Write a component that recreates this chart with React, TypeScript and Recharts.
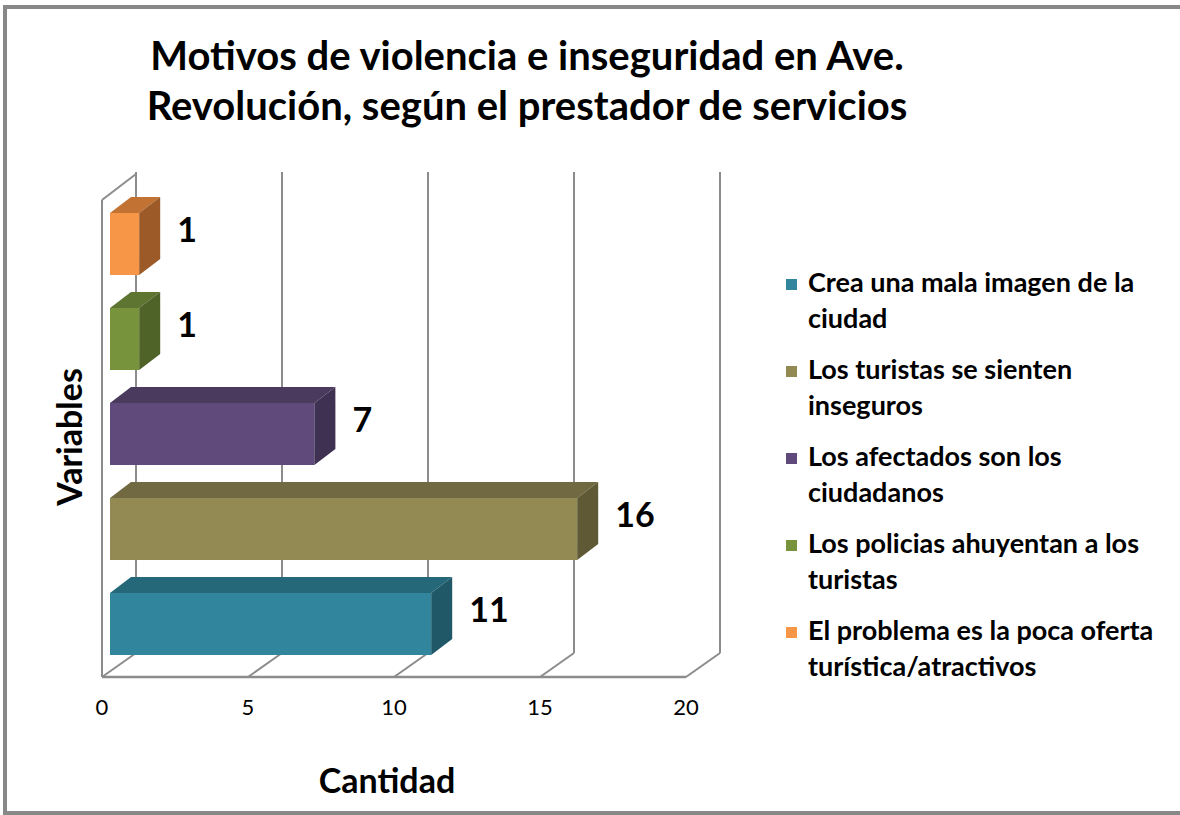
import React from 'react';
import { BarChart, Bar, XAxis, YAxis, CartesianGrid, Cell, LabelList } from 'recharts';

const categories = [
  'Crea una mala imagen de la ciudad',
  'Los turistas se sienten inseguros',
  'Los afectados son los ciudadanos',
  'Los policias ahuyentan a los turistas',
  'El problema es la poca oferta turística/atractivos',
];
const values = [11, 16, 7, 1, 1];
const xTicks = [0, 5, 10, 15, 20];
const legendLines = [
  ['Crea una mala imagen de la', 'ciudad'],
  ['Los turistas se sienten', 'inseguros'],
  ['Los afectados son los', 'ciudadanos'],
  ['Los policias ahuyentan a los', 'turistas'],
  ['El problema es la poca oferta', 'turística/atractivos'],
];

const frontColors = ['#31859C', '#938953', '#604A7B', '#77933C', '#F79646'];
const topColors = ['#25687A', '#716941', '#4A3A5E', '#5D7530', '#C27232'];
const sideColors = ['#205867', '#5F5A35', '#3F3151', '#4F6228', '#9C5A28'];

const data = categories.map((name, i) => ({ name, value: values[i] }));

const FONT = 'Lato, "Open Sans", sans-serif';
const WALL = '#8c8c8c';
// depth of the walls and of the boxes
const DX = 34;
const DY = -24;
const FACE_DX = 8;
const FACE_DY = -6;
const BOX_DX = 21;
const BOX_DY = -16;

const Box3D = (props: any) => {
  const { x, y, width, height, index } = props;
  if (width == null || height == null) return null;
  const fx = x + FACE_DX;
  const fy = y + FACE_DY;
  const w = width;
  const h = height;
  const top = `${fx},${fy} ${fx + BOX_DX},${fy + BOX_DY} ${fx + w + BOX_DX},${fy + BOX_DY} ${fx + w},${fy}`;
  const side = `${fx + w},${fy} ${fx + w + BOX_DX},${fy + BOX_DY} ${fx + w + BOX_DX},${fy + h + BOX_DY} ${fx + w},${fy + h}`;
  return (
    <g>
      <rect x={fx} y={fy} width={w} height={h} fill={frontColors[index]} />
      <polygon points={top} fill={topColors[index]} />
      <polygon points={side} fill={sideColors[index]} />
    </g>
  );
};

const gridLine = (p: any) => {
  const { x1, y1, y2, index } = p;
  const bx = x1 + DX;
  return (
    <g key={`grid-${index}`}>
      <line x1={bx} y1={y2 + DY} x2={bx} y2={y1 - 30} stroke={WALL} strokeWidth={2} />
      <line x1={x1} y1={y2} x2={bx} y2={y2 + DY} stroke={WALL} strokeWidth={2} />
      {index === 0 && (
        <>
          <line x1={x1} y1={y2} x2={x1} y2={y1 - 2} stroke={WALL} strokeWidth={2} />
          <line x1={x1} y1={y1 - 2} x2={bx} y2={y1 - 28} stroke={WALL} strokeWidth={2} />
        </>
      )}
    </g>
  );
};

const renderValue = (p: any) => {
  const vb = p.viewBox ?? p;
  const x = vb.x ?? p.x;
  const y = vb.y ?? p.y;
  const w = vb.width ?? p.width;
  const h = vb.height ?? p.height;
  return (
    <text
      x={x + w + FACE_DX + BOX_DX + 17}
      y={y + FACE_DY + h / 2 - 14}
      dy="0.35em"
      fontFamily={FONT}
      fontWeight={700}
      fontSize={34}
      fill="#000"
    >
      {p.value}
    </text>
  );
};

export default function App() {
  return (
    <div
      style={{
        position: 'absolute',
        left: 0,
        top: 0,
        width: 1180,
        height: 815,
        overflow: 'hidden',
        background: '#fff',
        fontFamily: FONT,
      }}
    >
      <div
        style={{
          position: 'absolute',
          left: 3,
          top: 5,
          width: 1177,
          height: 810,
          boxSizing: 'border-box',
          borderTop: '4px solid #888',
          borderLeft: '4px solid #888',
          borderBottom: '4px solid #888',
          borderRight: 'none',
        }}
      />
      <div style={{ position: 'absolute', left: 0, top: 0 }}>
        <BarChart
          width={1180}
          height={815}
          data={data}
          layout="vertical"
          margin={{ top: 202, right: 494, left: 102, bottom: 98 }}
          barSize={62}
        >
          <CartesianGrid horizontal={false} vertical={gridLine} />
          <XAxis
            type="number"
            domain={[0, 20]}
            ticks={xTicks}
            height={40}
            tickLine={false}
            tickSize={0}
            tickMargin={22}
            axisLine={{ stroke: WALL, strokeWidth: 2.5 }}
            tick={{ fontFamily: FONT, fontSize: 22, fill: '#000' }}
          />
          <YAxis type="category" dataKey="name" reversed hide />
          <Bar dataKey="value" shape={Box3D} isAnimationActive={false}>
            {data.map((d, i) => (
              <Cell key={d.name} fill={frontColors[i]} />
            ))}
            <LabelList dataKey="value" content={renderValue} />
          </Bar>
        </BarChart>
      </div>

      <div
        style={{
          position: 'absolute',
          left: 0,
          width: 1054,
          top: 30,
          textAlign: 'center',
          fontWeight: 700,
          fontSize: 40,
          lineHeight: '50px',
          color: '#000',
          whiteSpace: 'nowrap',
        }}
      >
        <div>Motivos de violencia e inseguridad en Ave.</div>
        <div>Revolución, según el prestador de servicios</div>
      </div>

      <div
        style={{
          position: 'absolute',
          left: 68,
          top: 437,
          transform: 'translate(-50%, -50%) rotate(-90deg)',
          fontWeight: 700,
          fontSize: 34,
          whiteSpace: 'nowrap',
        }}
      >
        Variables
      </div>
      <div
        style={{
          position: 'absolute',
          left: 387,
          top: 779,
          transform: 'translate(-50%, -50%)',
          fontWeight: 700,
          fontSize: 34,
          whiteSpace: 'nowrap',
        }}
      >
        Cantidad
      </div>

      <div style={{ position: 'absolute', left: 786, top: 264 }}>
        {legendLines.map((lines, i) => (
          <div key={i} style={{ position: 'relative', height: 87 }}>
            <div
              style={{
                position: 'absolute',
                left: 0,
                top: 15,
                width: 11,
                height: 11,
                background: frontColors[i],
              }}
            />
            <div
              style={{
                position: 'absolute',
                left: 22,
                top: 0,
                fontWeight: 700,
                fontSize: 27,
                lineHeight: '36px',
                whiteSpace: 'nowrap',
              }}
            >
              {lines.map(l => (
                <div key={l}>{l}</div>
              ))}
            </div>
          </div>
        ))}
      </div>
    </div>
  );
}
